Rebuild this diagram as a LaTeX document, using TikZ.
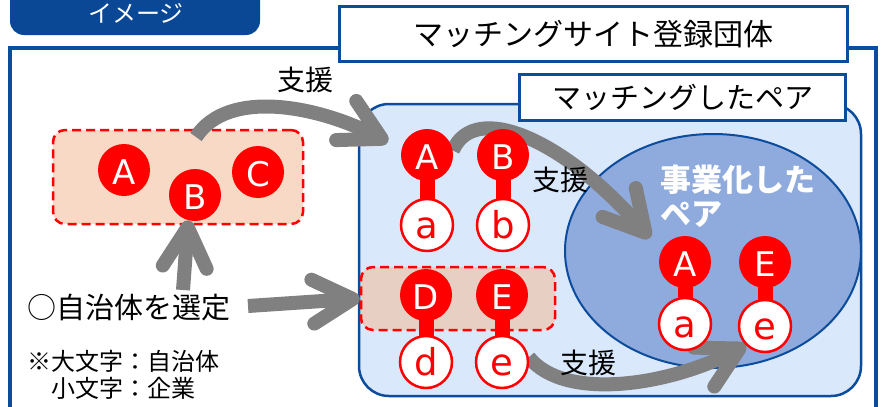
\documentclass[tikz,border=0pt]{standalone}
\usepackage{fontspec}
\setmainfont{Noto Sans CJK JP}
\newfontfamily\latinfont{DejaVu Sans}
\usetikzlibrary{arrows.meta}

\definecolor{frameblue}{RGB}{12,76,156}
\definecolor{tabblue}{RGB}{10,72,150}
\definecolor{areablue}{RGB}{218,232,252}
\definecolor{ellblue}{RGB}{143,170,220}
\definecolor{peach}{RGB}{248,217,197}
\definecolor{peachdark}{RGB}{232,207,196}
\definecolor{arrowgray}{RGB}{128,128,128}
\definecolor{pinred}{RGB}{255,0,0}

\pgfdeclarelayer{back}
\pgfdeclarelayer{arrowlayer}
\pgfsetlayers{back,arrowlayer,main}

\begin{document}
\begin{tikzpicture}[x=1pt,y=-1pt,
  titlebox/.style={draw=frameblue, line width=3pt, fill=white, inner sep=0pt},
  groupbox/.style={draw=pinred, line width=2.5pt, dash pattern=on 9pt off 5pt, rounded corners=12pt},
  bigpin/.style={circle, fill=pinred, text=white, minimum size=52pt, inner sep=0pt, text height=29pt, text depth=0pt, font=\latinfont\fontsize{34}{34}\selectfont},
  smallpin/.style={circle, draw=pinred, line width=2.5pt, fill=white, text=pinred, minimum size=52pt, inner sep=0pt, text height=26pt, text depth=0pt, font=\latinfont\fontsize{37}{37}\selectfont},
  stem/.style={draw=pinred, line width=15pt, shorten <=-3pt, shorten >=-1.2pt},
  support/.style={draw=arrowgray, line width=14pt, -{Straight Barb[length=40pt,width=44pt,round]}},
  suplabel/.style={font=\fontsize{28}{28}\selectfont, anchor=base, inner sep=0pt}]
\useasboundingbox (0,0) rectangle (881,407);

\begin{pgfonlayer}{back}
% frame and tab
\draw[frameblue, line width=3.5pt] (10,48) rectangle (876,440);
\node[fill=tabblue, rounded corners=14pt, minimum width=250pt, minimum height=56pt, text=white, font=\fontsize{24}{24}\selectfont] (tab) at (135,7) {};
\node[text=white, font=\fontsize{24}{24}\selectfont, inner sep=0pt] (tabtext) at (136,13) {イメージ};

% registered groups
\node[titlebox, minimum width=508pt, minimum height=55pt, font=\fontsize{30}{30}\selectfont] (site) at (593.5,34) {マッチングサイト登録団体};

% matched pairs area
\filldraw[fill=areablue, draw=frameblue, line width=2.5pt, rounded corners=30pt] (359,104) rectangle (861,396);
\node[titlebox, minimum width=326pt, minimum height=46pt, font=\fontsize{29}{29}\selectfont] (pairs) at (682.5,97.5) {マッチングしたペア};

% business pairs
\filldraw[fill=ellblue, draw=frameblue, line width=2pt] (713,251) ellipse (148pt and 117pt);

% dashed groups
\node[groupbox, fill=peach, minimum width=250pt, minimum height=94pt] (grp0) at (178,177) {};
\node[groupbox, fill=peachdark, minimum width=194pt, minimum height=63pt] (grp2) at (458,298.5) {};
\end{pgfonlayer}

% municipalities
\node[bigpin] (A0) at (124,170) {A};
\node[bigpin] (B0) at (195,195) {B};
\node[bigpin] (C0) at (258,172) {C};

% pairs: upper/lower/x/upper y/lower y/group
\foreach \up/\low/\x/\yu/\yl/\n in {A/a/427/155/225/1, B/b/503/155/225/1, D/d/426/295/362/2, E/e/502/295/362/2, A/a/685/262/324/3, E/e/765/262/326/3} {
	\node[bigpin] (\up\n) at (\x,\yu) {\up};
	\node[smallpin] (\low\n) at (\x,\yl) {\low};
	\draw[stem] (\up\n) -- (\low\n);
}

% texts
\node[suplabel] (sup0) at (305,90) {支援};
\node[suplabel] (sup1) at (560,190) {支援};
\node[suplabel] (sup2) at (588,373) {支援};
\node[anchor=north west, inner sep=0pt, align=left, text=white, font=\fontsize{31}{34}\selectfont\bfseries] (biz) at (660,165) {事業化した\\ペア};
\node[anchor=base west, inner sep=0pt, font=\fontsize{29}{29}\selectfont] (sel) at (27,318) {○自治体を選定};
\node[anchor=north west, inner sep=0pt, align=left, font=\fontsize{24}{27}\selectfont] (note) at (27,350) {※大文字：自治体\\　小文字：企業};

% arrows
\coordinate (from0) at (196,137);
\coordinate (to0) at (388,142);
\coordinate (sel1) at (183,290);
\coordinate (sel2) at (248,306);
\coordinate (to3) at (650,238);
\begin{pgfonlayer}{arrowlayer}
\draw[support] (from0) .. controls (228,88) and (318,106) .. (to0);
\draw[support] (sel1) -- (B0.255);
\draw[support] (sel2) -- (grp2.west);
\draw[support] (A1.10) .. controls (475,100) and (565,140) .. (to3);
\draw[support] (e2.10) .. controls (565,402) and (670,385) .. (e3.225);
\end{pgfonlayer}
\end{tikzpicture}
\end{document}
